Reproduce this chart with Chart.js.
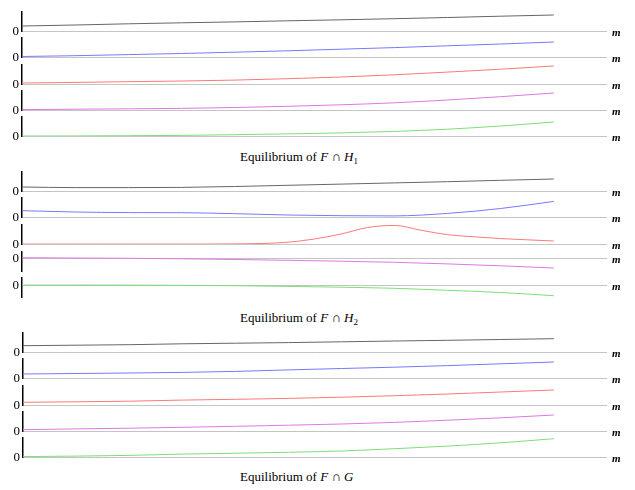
<!DOCTYPE html>
<html>
<head>
<meta charset="utf-8">
<script src="https://cdn.jsdelivr.net/npm/chart.js"></script>
<style>
  body { margin: 0; background: #fff; width: 635px; height: 490px; position: relative; overflow: hidden; }
  canvas { position: absolute; left: 0; }
  .cap { position: absolute; font-family: "Liberation Serif", "Times New Roman", serif; font-size: 13px; color: #000; white-space: nowrap; line-height: 14px; }
  .cap sub { font-size: 9px; vertical-align: -3px; line-height: 0; }
</style>
</head>
<body>
<div class="cap" style="left:240px;top:150px">Equilibrium of <i>F</i> ∩ <i>H</i><sub>1</sub></div>
<div class="cap" style="left:240px;top:311px">Equilibrium of <i>F</i> ∩ <i>H</i><sub>2</sub></div>
<div class="cap" style="left:240px;top:470px">Equilibrium of <i>F</i> ∩ <i>G</i></div>

<script>
// x samples (parameter along the horizontal axis, 0..1)
const xs = [0, 0.1, 0.2, 0.3, 0.4, 0.5, 0.6, 0.7, 0.8, 0.9, 1];
const xsFine = [0, 0.05, 0.1, 0.15, 0.2, 0.25, 0.3, 0.35, 0.4, 0.45, 0.5,
                0.55, 0.6, 0.65, 0.7, 0.75, 0.8, 0.85, 0.9, 0.95, 1];
const xMax = 1.1;

// Equilibrium of F ∩ H1
const h1Black   = [5, 6, 7.2, 8.2, 9.1, 10.2, 11.2, 12.3, 13.5, 14.8, 16];
const h1Blue    = [0.5, 1.3, 2.4, 3.5, 4.8, 6.2, 7.8, 9.4, 11.2, 13, 15];
const h1Red     = [1, 1.6, 2.3, 3, 3.9, 5.3, 7, 9.2, 11.9, 14.8, 18];
const h1Magenta = [0.4, 0.8, 1.2, 1.6, 2.5, 3.7, 5.2, 7.2, 10, 13.3, 17];
const h1Green   = [0, 0.1, 0.3, 0.6, 1.3, 2.1, 3.1, 4.6, 6.8, 10, 14];

// Equilibrium of F ∩ H2
const h2Black   = [4, 3.4, 3.4, 3.6, 4.5, 5.7, 6.9, 8.1, 9.3, 10.7, 12];
const h2Blue    = [6.3, 5, 4.4, 4.3, 3.3, 2, 1.3, 1.1, 3.6, 8.5, 15.6];
const h2Red     = [0, 0, 0, 0, 0, 0, 0, 0, 0.1, 0.5, 1.8, 5, 10, 16.5, 18.6, 13.8, 9.3, 7.2, 5.4, 4.2, 3];
const h2Magenta = [0.3, 0, -0.3, -0.8, -1.5, -2.3, -3.2, -4.3, -5.9, -7.8, -10];
const h2Green   = [0, 0, -0.1, -0.3, -0.7, -1.4, -2.2, -3.3, -5.3, -7.5, -10.7];

// Equilibrium of F ∩ G
const gBlack   = [6.3, 6.8, 7.3, 8.2, 8.8, 9.4, 10.2, 11, 11.7, 12.5, 13.3];
const gBlue    = [4, 4.5, 5, 5.6, 6.6, 8.1, 9.5, 10.8, 12.4, 14.2, 16];
const gRed     = [2.7, 3.2, 3.8, 4.9, 5.7, 6.6, 7.8, 9.3, 11, 13, 15];
const gMagenta = [1.3, 2.1, 2.8, 3.7, 4.7, 5.8, 7, 8.6, 10.8, 13.2, 16];
const gGreen   = [0.4, 0.9, 1.6, 2.9, 3.8, 4.7, 6, 8.3, 10.9, 14.2, 18.3];

// y ranges of each small panel
const yRanges = [
  [0, 19], [0, 19], [0, 19], [0, 19], [0, 19],
  [0, 19], [0, 19], [0, 19], [-13, 6], [-12, 7],
  [0, 19], [0, 19], [0, 19], [0, 19], [0, 19]
];

const colors = ['#666666', '#7878ff', '#ff7878', '#e078e0', '#78e078'];

// layout: pixel row of each panel's zero line, left offset per group
const baseRows = [31, 57, 84, 110, 136, 191, 217, 244, 258, 285, 352, 378, 405, 431, 457];
const groupLeft = [2, 2, 3];

const panels = [
  [xs, h1Black], [xs, h1Blue], [xs, h1Red], [xs, h1Magenta], [xs, h1Green],
  [xs, h2Black], [xs, h2Blue], [xsFine, h2Red], [xs, h2Magenta], [xs, h2Green],
  [xs, gBlack], [xs, gBlue], [xs, gRed], [xs, gMagenta], [xs, gGreen]
];

const unitLabel = {
  id: 'unitLabel',
  afterDraw(chart) {
    const { ctx, chartArea, scales } = chart;
    const y = scales.y.getPixelForValue(0);
    ctx.save();
    ctx.font = 'italic bold 11px "Liberation Serif"';
    ctx.fillStyle = '#000';
    ctx.textBaseline = 'middle';
    ctx.fillText('m', chartArea.right + 5, y + 2);
    ctx.restore();
  }
};

const padTop = 4, padBottom = 8;

panels.forEach(([xv, yv], i) => {
  const [yMin, yMax] = yRanges[i];
  const canvas = document.createElement('canvas');
  canvas.width = 635;
  canvas.height = (yMax - yMin) + padTop + padBottom;
  canvas.style.top = (baseRows[i] - yMax - padTop) + 'px';
  document.body.appendChild(canvas);

  new Chart(canvas.getContext('2d'), {
    type: 'line',
    data: {
      datasets: [{
        data: xv.map((x, k) => ({ x, y: yv[k] })),
        borderColor: colors[i % 5],
        borderWidth: 1,
        pointRadius: 0,
        cubicInterpolationMode: 'monotone',
        fill: false
      }]
    },
    options: {
      responsive: false,
      animation: false,
      devicePixelRatio: 1,
      layout: { padding: { left: groupLeft[Math.floor(i / 5)], right: 28, top: padTop, bottom: padBottom } },
      plugins: { legend: { display: false }, tooltip: { enabled: false } },
      scales: {
        x: { type: 'linear', min: 0, max: xMax, display: false },
        y: {
          min: yMin,
          max: yMax,
          afterBuildTicks: s => { s.ticks = [{ value: 0 }]; },
          afterFit: s => { s.width = 20; s.paddingTop = 0; s.paddingBottom = 0; },
          ticks: {
            color: '#000',
            padding: 3,
            labelOffset: 1,
            font: { family: '"Liberation Serif"', size: 13 }
          },
          grid: { color: '#c4c4c4', lineWidth: 1, drawTicks: false },
          border: { color: '#000', width: 1.5 }
        }
      }
    },
    plugins: [unitLabel]
  });
});
</script>
</body>
</html>
